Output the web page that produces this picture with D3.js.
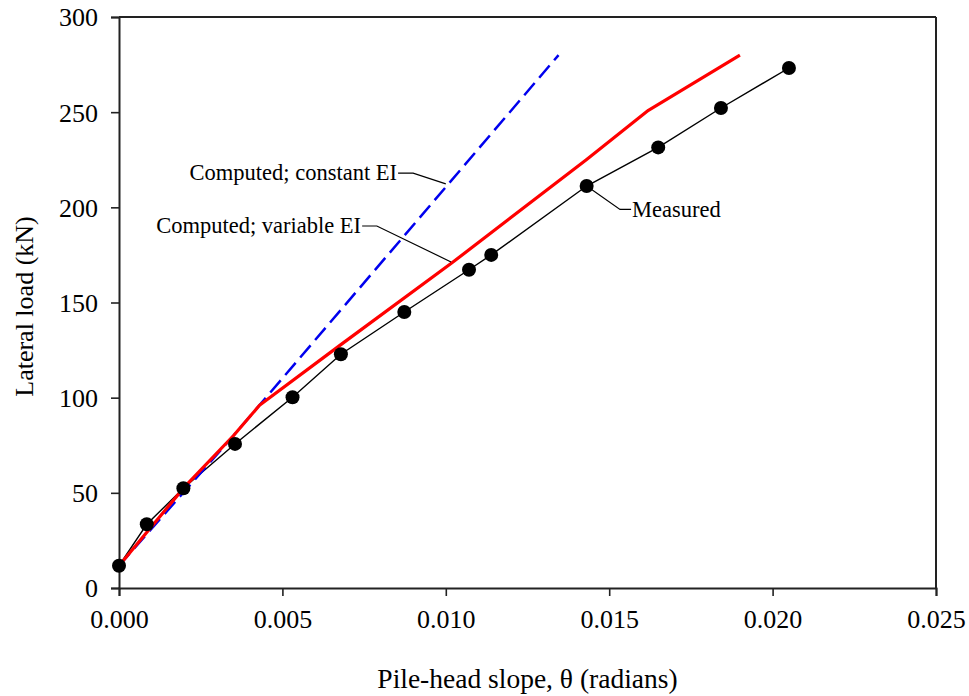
<!DOCTYPE html>
<html>
<head>
<meta charset="utf-8">
<script src="https://cdn.jsdelivr.net/npm/d3@7"></script>
<style>
  html, body { margin: 0; padding: 0; background: #fff; }
  svg text { font-family: "Liberation Serif", "Times New Roman", serif; fill: #000; }
</style>
</head>
<body>
<svg id="chart" width="969" height="696"></svg>
<script>
// ---- Data ----
const measuredSlope = [0.0000, 0.00085, 0.00197, 0.00355, 0.00531, 0.00679, 0.00873, 0.01071, 0.01139, 0.01431, 0.01650, 0.01842, 0.02050];
const measuredLoad  = [11.7, 33.5, 52.4, 75.7, 100.2, 122.8, 145.0, 167.2, 175.0, 211.2, 231.5, 252.2, 273.2];

const variableSlope = [0.0000, 0.0020, 0.0035, 0.0043, 0.0068, 0.0102, 0.0143, 0.0162, 0.0190];
const variableLoad  = [11.7, 53, 80, 96, 128, 171, 225, 251, 280];

const constantSlope = [0.0000, 0.0035, 0.01345];
const constantLoad  = [11.7, 80, 280];

const xTicks = [0, 0.005, 0.010, 0.015, 0.020, 0.025];
const yTicks = [0, 50, 100, 150, 200, 250, 300];

const xTitle = "Pile-head slope, \u03B8 (radians)";
const yTitle = "Lateral load (kN)";

// annotations: label, leader path in data units
const annLabels = ["Computed; constant EI", "Computed; variable EI", "Measured"];
const annLeaderX = [[0.00854, 0.0090, 0.0100], [0.00744, 0.00789, 0.01016], [0.01431, 0.01533, 0.01567]];
const annLeaderY = [[218, 218, 212.3], [190.2, 190.2, 171.3], [211.2, 198.9, 198.9]];

// ---- Layout ----
const svg = d3.select("#chart");
const margin = { left: 119, top: 17, right: 969 - 936, bottom: 696 - 588 };
const W = 969 - margin.left - margin.right;
const H = 696 - margin.top - margin.bottom;

const x = d3.scaleLinear().domain([0, 0.025]).range([0, W]);
const y = d3.scaleLinear().domain([0, 300]).range([H, 0]);

const g = svg.append("g").attr("transform", `translate(${margin.left},${margin.top})`);

// frame (top & right)
g.append("line").attr("x1", 0).attr("x2", W).attr("y1", 0).attr("y2", 0)
  .attr("stroke", "#222").attr("stroke-width", 2);
g.append("line").attr("x1", W).attr("x2", W).attr("y1", 0).attr("y2", H)
  .attr("stroke", "#222").attr("stroke-width", 2);

// axes
const xAxis = d3.axisBottom(x).tickValues(xTicks).tickFormat(d3.format(".3f")).tickSize(8).tickPadding(14);
const yAxis = d3.axisLeft(y).tickValues(yTicks).tickFormat(d3.format("d")).tickSize(8).tickPadding(13);

const gx = g.append("g").attr("transform", `translate(0,${H})`).call(xAxis);
const gy = g.append("g").call(yAxis);
[gx, gy].forEach(a => {
  a.select(".domain").attr("stroke", "#222").attr("stroke-width", 2);
  a.selectAll(".tick line").attr("stroke", "#222").attr("stroke-width", 1.6);
  a.selectAll(".tick text").attr("font-size", 26).attr("font-family", "Liberation Serif, Times New Roman, serif").attr("fill", "#000");
});
gy.selectAll(".tick text").attr("dy", "0.34em");

// axis titles
svg.append("text").attr("x", margin.left + W / 2 + 0).attr("y", 688)
  .attr("text-anchor", "middle").attr("font-size", 27.5).text(xTitle);
svg.append("text").attr("transform", `translate(33,${margin.top + H / 2 + 4}) rotate(-90)`)
  .attr("text-anchor", "middle").attr("font-size", 26).text(yTitle);

const line = d3.line().x(d => x(d[0])).y(d => y(d[1]));
const zip = (a, b) => a.map((v, i) => [v, b[i]]);

// measured line
g.append("path").datum(zip(measuredSlope, measuredLoad)).attr("d", line)
  .attr("fill", "none").attr("stroke", "#000").attr("stroke-width", 1.4);

// constant EI (blue dashed)
g.append("path").datum(zip(constantSlope, constantLoad)).attr("d", line)
  .attr("fill", "none").attr("stroke", "#0000ee").attr("stroke-width", 2.5)
  .attr("stroke-dasharray", "16,7");

// variable EI (red)
g.append("path").datum(zip(variableSlope, variableLoad)).attr("d", line)
  .attr("fill", "none").attr("stroke", "#ff0000").attr("stroke-width", 3.2)
  .attr("stroke-linejoin", "round");

// measured markers
g.selectAll("circle.m").data(zip(measuredSlope, measuredLoad)).enter().append("circle")
  .attr("class", "m").attr("cx", d => x(d[0])).attr("cy", d => y(d[1])).attr("r", 7)
  .attr("fill", "#000");

// annotations
annLabels.forEach((lab, i) => {
  const pts = zip(annLeaderX[i], annLeaderY[i]);
  g.append("path").datum(pts).attr("d", line).attr("fill", "none")
    .attr("stroke", "#000").attr("stroke-width", 1.2);
  if (i < 2) {
    const p = pts[0];
    g.append("text").attr("x", x(p[0]) - 1).attr("y", y(p[1])).attr("dy", "0.33em")
      .attr("text-anchor", "end").attr("font-size", 22.5).text(lab);
  } else {
    const p = pts[pts.length - 1];
    g.append("text").attr("x", x(p[0]) + 1).attr("y", y(p[1])).attr("dy", "0.33em")
      .attr("text-anchor", "start").attr("font-size", 22.5).text(lab);
  }
});
</script>
</body>
</html>
